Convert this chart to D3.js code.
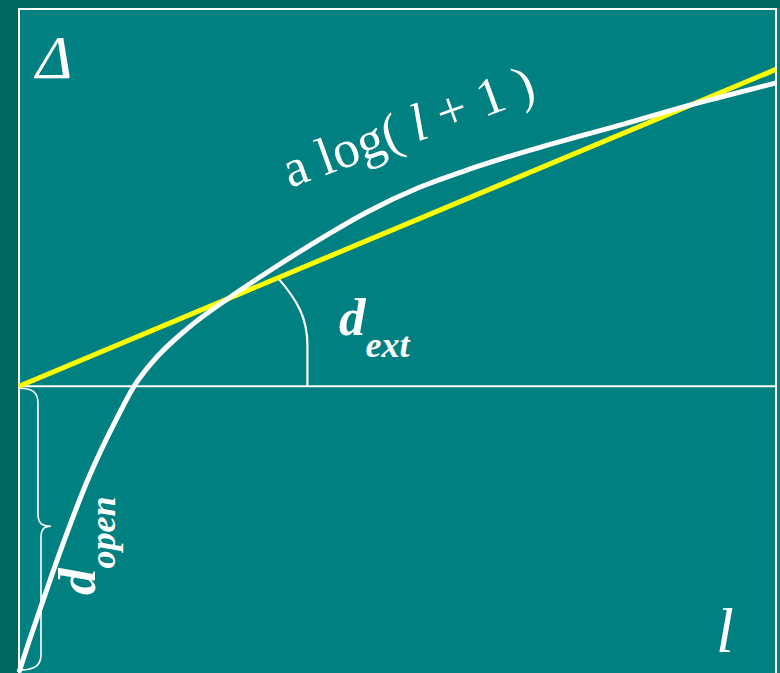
<!DOCTYPE html>
<html>
<head>
<meta charset="utf-8">
<script src="https://cdn.jsdelivr.net/npm/d3@7/dist/d3.min.js"></script>
<style>
  html, body { margin: 0; padding: 0; background: #006660; }
  svg { display: block; }
</style>
</head>
<body>
<script>
// Gap length l along the horizontal axis
const curveL = [0, 0.13, 0.28, 0.57, 0.90, 1.30, 1.52, 1.77, 2.22, 2.83, 3.45, 4.11,
                4.60, 5.30, 5.96, 6.62, 7.28, 7.94, 8.73, 9.26, 10.0];
// Δ = a log(l + 1) - d_open
const curveDelta = [-3.79, -3.39, -2.95, -2.12, -1.26, -0.41, 0, 0.33, 0.76, 1.21, 1.62, 2.03,
                    2.31, 2.64, 2.88, 3.09, 3.28, 3.46, 3.69, 3.83, 4.02];
// Linear extension line d_ext (yellow)
const lineL = [0, 10];
const lineDelta = [0, 4.20];
// d_open: offset of the curve below the axis at l = 0
const dOpen = [0, -3.76];
// Axis names
const axisLabels = ["Δ", "l"];

const W = 780, H = 673;
const frame = { left: 19, right: 776, top: 9, bottom: 688 };

const x = d3.scaleLinear().domain([0, 10]).range([frame.left, frame.right]);
const y = d3.scaleLinear().domain([-4, 5]).range([frame.bottom, frame.top]);

const svg = d3.select("body").append("svg")
  .attr("width", W).attr("height", H)
  .attr("viewBox", `0 0 ${W} ${H}`);

// Outer darker margin, then the teal plotting panel
svg.append("rect").attr("width", W).attr("height", H).attr("fill", "#006660");
svg.append("rect")
  .attr("x", frame.left - 1).attr("y", frame.top - 1)
  .attr("width", W - frame.left + 1).attr("height", H)
  .attr("fill", "#008080");

// Panel border (left, top, right)
svg.append("path")
  .attr("d", `M${frame.left},${H + 5}V${frame.top}H${frame.right}V${H + 5}`)
  .attr("fill", "none").attr("stroke", "#ffffff").attr("stroke-width", 2);

// Horizontal axis at Δ = 0
svg.append("line")
  .attr("x1", x(0)).attr("x2", x(10))
  .attr("y1", y(0)).attr("y2", y(0))
  .attr("stroke", "#ffffff").attr("stroke-width", 2);

// Angle marker between the axis and the extension line
const ax = x(3.81), ay = y(0);
const tl = 3.42, tx = x(tl), ty = y(lineDelta[1] * tl / lineL[1]);
svg.append("path")
  .attr("d", `M${ax},${ay}L${ax},${ay - 41}C${ax},${ay - 68} ${ax - 10},${ay - 86} ${tx},${ty}`)
  .attr("fill", "none").attr("stroke", "#ffffff").attr("stroke-width", 2.2);

// Curly brace marking d_open
const bx = x(0) + 1, bTop = y(dOpen[0]) + 2, bBot = y(dOpen[1]);
const bMid = bTop + (bBot - bTop) * 0.49;
svg.append("path")
  .attr("d", `M${bx},${bTop}C${bx + 12},${bTop} ${bx + 18},${bTop + 4} ${bx + 18},${bTop + 15}` +
             `L${bx + 18},${bMid - 12}C${bx + 18},${bMid - 3} ${bx + 22},${bMid} ${bx + 31},${bMid}` +
             `C${bx + 23},${bMid} ${bx + 21},${bMid + 4} ${bx + 21},${bMid + 12}` +
             `L${bx + 21},${bBot - 15}C${bx + 21},${bBot - 4} ${bx + 13},${bBot} ${bx + 1},${bBot}`)
  .attr("fill", "none").attr("stroke", "#ffffff").attr("stroke-width", 1.6);

// Yellow extension line
const lineData = lineL.map((l, i) => [l, lineDelta[i]]);
svg.append("path")
  .datum(lineData)
  .attr("d", d3.line().x(d => x(d[0])).y(d => y(d[1])))
  .attr("fill", "none").attr("stroke", "#ffff00").attr("stroke-width", 5);

// White log curve
const curveData = curveL.map((l, i) => [l, curveDelta[i]]);
svg.append("path")
  .datum(curveData)
  .attr("d", d3.line().x(d => x(d[0])).y(d => y(d[1])).curve(d3.curveMonotoneX))
  .attr("fill", "none").attr("stroke", "#ffffff").attr("stroke-width", 5)
  .attr("stroke-linecap", "butt");

const serif = "'Liberation Serif', 'Times New Roman', serif";

// Axis names
svg.append("text")
  .attr("x", 36).attr("y", 78)
  .attr("font-family", serif).attr("font-style", "italic").attr("font-size", 62)
  .attr("fill", "#ffffff").text(axisLabels[0]);
svg.append("text")
  .attr("x", 716).attr("y", 652)
  .attr("font-family", serif).attr("font-style", "italic").attr("font-size", 64)
  .attr("fill", "#ffffff").text(axisLabels[1]);

// Curve formula, along the curve
const formula = svg.append("text")
  .attr("transform", "translate(290,188) rotate(-20)")
  .attr("font-family", serif).attr("font-size", 53).attr("fill", "#ffffff");
formula.append("tspan").text("a log( ");
formula.append("tspan").attr("font-style", "italic").text("l");
formula.append("tspan").text(" + 1 )");

// d_ext label
const dext = svg.append("text")
  .attr("x", 339).attr("y", 335)
  .attr("font-family", serif).attr("font-style", "italic").attr("font-weight", "bold")
  .attr("fill", "#ffffff");
dext.append("tspan").attr("font-size", 53).text("d");
dext.append("tspan").attr("font-size", 36).attr("dy", 22).text("ext");

// d_open label, reading upward
const dopen = svg.append("text")
  .attr("transform", "translate(95,595) rotate(-90)")
  .attr("font-family", serif).attr("font-style", "italic").attr("font-weight", "bold")
  .attr("fill", "#ffffff");
dopen.append("tspan").attr("font-size", 53).text("d");
dopen.append("tspan").attr("font-size", 36).attr("dy", 20).text("open");
</script>
</body>
</html>
